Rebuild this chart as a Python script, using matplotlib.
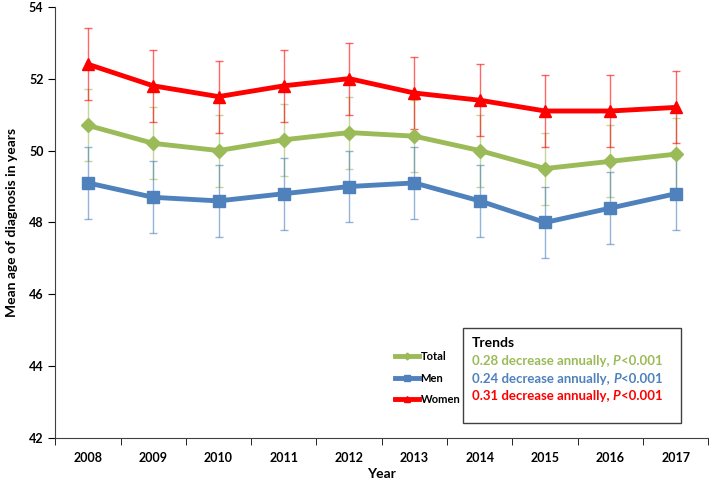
import numpy as np
import matplotlib.pyplot as plt
from matplotlib.patches import Rectangle

plt.rcParams['font.family'] = ['Lato', 'DejaVu Sans']
plt.rcParams['font.weight'] = 'bold'

years = ['2008', '2009', '2010', '2011', '2012', '2013', '2014', '2015', '2016', '2017']
total = [50.7, 50.2, 50.0, 50.3, 50.5, 50.4, 50.0, 49.5, 49.7, 49.9]
men = [49.1, 48.7, 48.6, 48.8, 49.0, 49.1, 48.6, 48.0, 48.4, 48.8]
women = [52.4, 51.8, 51.5, 51.8, 52.0, 51.6, 51.4, 51.1, 51.1, 51.2]
total_err = [1.0, 1.0, 1.0, 1.0, 1.0, 1.0, 1.0, 1.0, 1.0, 1.0]
men_err = [1.0, 1.0, 1.0, 1.0, 1.0, 1.0, 1.0, 1.0, 1.0, 1.0]
women_err = [1.0, 1.0, 1.0, 1.0, 1.0, 1.0, 1.0, 1.0, 1.0, 1.0]

trend_lines = ['0.28 decrease annually, ', '0.24 decrease annually, ', '0.31 decrease annually, ']

GREEN = '#9BBB59'
BLUE = '#4F81BD'
RED = '#FF0000'

fig = plt.figure(figsize=(7.09, 4.8), dpi=100)
ax = fig.add_axes([0.078, 0.087, 0.921, 0.899])

x = np.arange(len(years))

# error bars first, thin and light
for vals, err, c in [(total, total_err, GREEN), (men, men_err, BLUE), (women, women_err, RED)]:
    ax.errorbar(x, vals, yerr=err, fmt='none', ecolor=c, elinewidth=1, capsize=3,
                capthick=1, alpha=0.6, zorder=2)

ax.plot(x, total, color=GREEN, lw=3.5, marker='D', ms=7, label='Total', zorder=3)
ax.plot(x, men, color=BLUE, lw=3.5, marker='s', ms=9, label='Men', zorder=3)
ax.plot(x, women, color=RED, lw=3.5, marker='^', ms=9, label='Women', zorder=4)

ax.set_xlim(-0.5, len(years) - 0.5)
ax.set_ylim(42, 54)
ax.set_yticks(np.arange(42, 55, 2))
ax.set_xticks(x)
ax.set_xticklabels(years)
ax.set_xticks(np.arange(-0.5, len(years), 1), minor=True)
ax.tick_params(axis='x', which='major', length=0, labelsize=9, pad=10)
ax.tick_params(axis='x', which='minor', length=5, direction='out')
ax.tick_params(axis='y', length=5, direction='out', labelsize=9)
for s in ['top', 'right']:
    ax.spines[s].set_visible(False)
for s in ['left', 'bottom']:
    ax.spines[s].set_color('#404040')

ax.set_xlabel('Year', fontsize=10, fontweight='bold', labelpad=3)
ax.set_ylabel('Mean age of diagnosis in years', fontsize=10, fontweight='bold', labelpad=8)

leg = ax.legend(loc='upper left', bbox_to_anchor=(395 / 709, 1 - 351 / 480),
                bbox_transform=fig.transFigure, frameon=False, fontsize=8,
                handlelength=2.15, handletextpad=0.15, labelspacing=0.95, markerscale=0.5,
                borderaxespad=0, borderpad=0)
for t in leg.get_texts():
    t.set_fontweight('bold')

# trends box
fig.patches.append(Rectangle((463 / 709, 1 - 423 / 480), 218 / 709, 95 / 480,
                             transform=fig.transFigure, fill=False, edgecolor='#404040', lw=1))
fig.text(472 / 709, 1 - 343 / 480, 'Trends', fontsize=10, fontweight='bold', va='center')
ys = [361, 379, 396]
for txt, c, yy in zip(trend_lines, [GREEN, BLUE, RED], ys):
    t = fig.text(472 / 709, 1 - yy / 480, txt, fontsize=9.5, fontweight='bold', color=c, va='center')
    fig.canvas.draw()
    x1 = t.get_window_extent().x1
    p = fig.text(x1 / fig.bbox.width, 1 - yy / 480, 'P', fontsize=9.5, fontweight='bold',
                 fontstyle='italic', color=c, va='center')
    fig.canvas.draw()
    x2 = p.get_window_extent().x1
    fig.text(x2 / fig.bbox.width, 1 - yy / 480, '<0.001', fontsize=9.5, fontweight='bold',
             color=c, va='center')

fig.savefig('out.png', dpi=100)
